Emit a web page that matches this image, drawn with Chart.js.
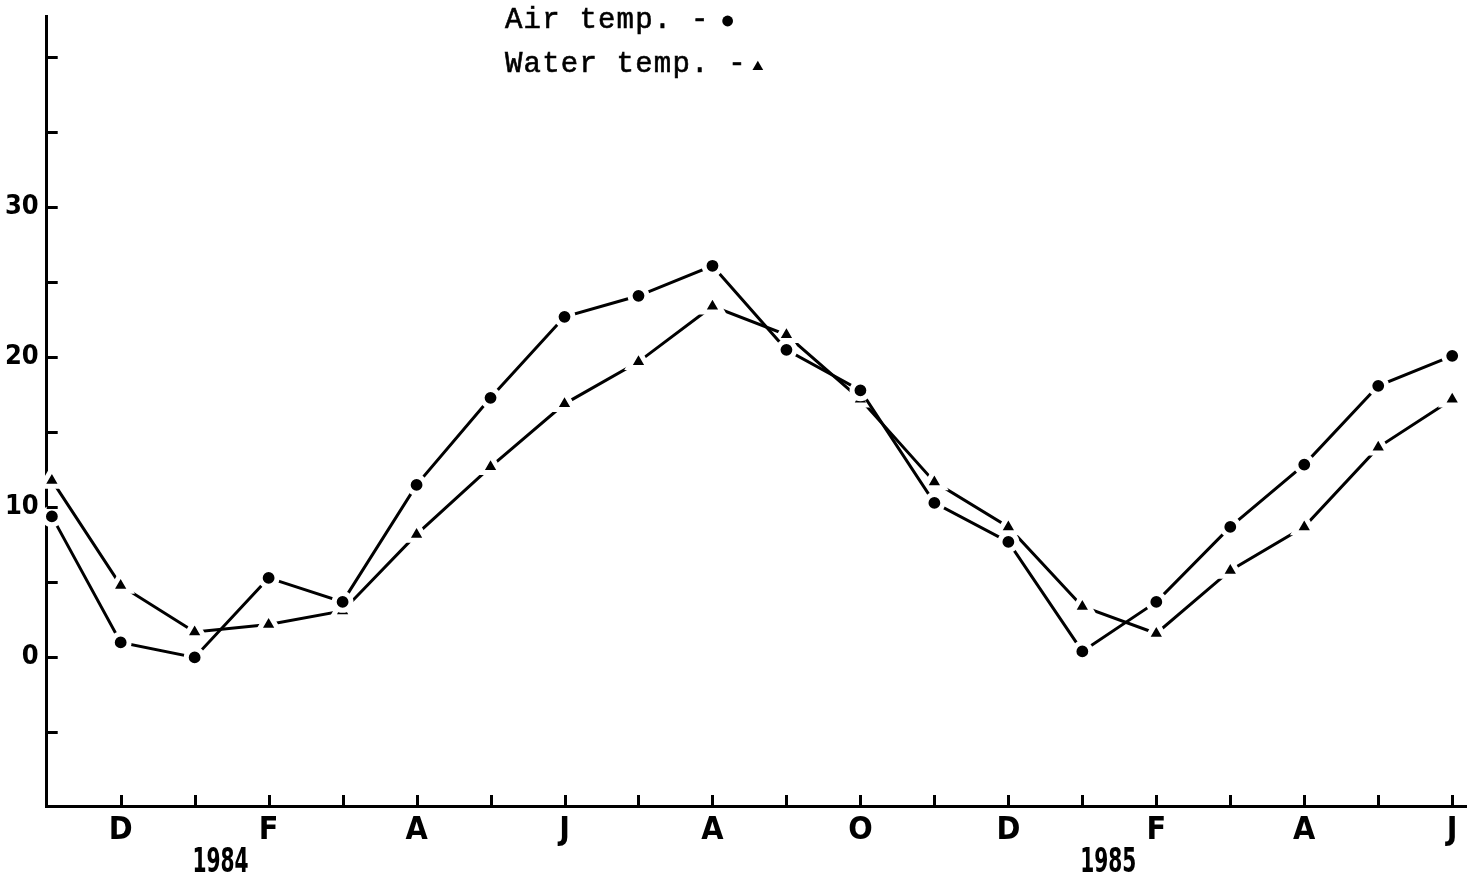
<!DOCTYPE html>
<html>
<head>
<meta charset="utf-8">
<title>Air and water temperature</title>
<script src="https://cdn.jsdelivr.net/npm/chart.js@4.4.1/dist/chart.umd.min.js"></script>
<style>
  html, body { margin: 0; padding: 0; background: #fff; }
  #wrap { width: 1467px; height: 877px; position: relative; }
</style>
</head>
<body>
<div id="wrap"><canvas id="chart" width="1467" height="877"></canvas></div>
<script>
// Monthly readings, November 1983 to June 1985
const months = ['N','D','J','F','M','A','M','J','J','A','S','O','N','D','J','F','M','A','M','J'];
const monthIndex = [0.07, 1, 2, 3, 4, 5, 6, 7, 8, 9, 10, 11, 12, 13, 14, 15, 16, 17, 18, 19];
const airTemp   = [9.4, 1.0, 0.0, 5.3, 3.7, 11.5, 17.3, 22.7, 24.1, 26.1, 20.5, 17.8, 10.3, 7.7, 0.4, 3.7, 8.7, 12.85, 18.1, 20.1];
const waterTemp = [11.8, 4.8, 1.7, 2.2, 3.1, 8.2, 12.7, 16.9, 19.7, 23.4, 21.5, 17.2, 11.7, 8.7, 3.4, 1.6, 5.8, 8.7, 14.0, 17.2];
const yTickValues = [-5, 0, 5, 10, 15, 20, 25, 30, 35, 40];
const yLabelValues = [0, 10, 20, 30];
const xTickValues = [1, 2, 3, 4, 5, 6, 7, 8, 9, 10, 11, 12, 13, 14, 15, 16, 17, 18, 19];
const years = ['1984', '1985'];
const januaryIndex = [2, 14];
const legendLabels = ['Air temp. -', 'Water temp. -'];

const INK = '#000';
const NARROW = '"Liberation Sans Narrow", "DejaVu Sans Condensed", sans-serif';

const toPoints = vals => vals.map((v, i) => ({ x: monthIndex[i], y: v }));

// keep the plot box fixed: no extra room reserved for edge labels
const noEdgePadding = s => {
  s.paddingLeft = 0; s.paddingRight = 0; s.paddingTop = 0; s.paddingBottom = 0;
};

// Short inward tick marks on both axes, the year captions and the key
const decorations = {
  id: 'decorations',
  afterDraw(chart) {
    const { ctx, chartArea, scales: { x, y } } = chart;
    ctx.save();
    ctx.strokeStyle = INK;
    ctx.lineWidth = 3;
    ctx.lineCap = 'butt';
    ctx.beginPath();
    yTickValues.forEach(v => {
      const py = Math.round(y.getPixelForValue(v)) + 0.5;
      ctx.moveTo(chartArea.left, py);
      ctx.lineTo(chartArea.left + 11, py);
    });
    xTickValues.forEach(v => {
      const px = Math.round(x.getPixelForValue(v)) + 0.5;
      ctx.moveTo(px, chartArea.bottom);
      ctx.lineTo(px, chartArea.bottom - 11);
    });
    ctx.stroke();

    // year captions sit just right of the January ticks, in tall condensed figures
    ctx.fillStyle = INK;
    ctx.font = 'bold 34px ' + NARROW;
    ctx.textAlign = 'center';
    ctx.textBaseline = 'alphabetic';
    years.forEach((t, i) => {
      ctx.save();
      ctx.translate(x.getPixelForValue(januaryIndex[i] + 0.35), 872);
      ctx.scale(0.66, 1);
      ctx.fillText(t, 0, 0);
      ctx.restore();
    });

    // key: typewriter text followed by the series marker
    ctx.font = '29px "Liberation Mono", "DejaVu Sans Mono", monospace';
    ctx.textAlign = 'left';
    if ('letterSpacing' in ctx) ctx.letterSpacing = '1.2px';
    const rows = [
      { text: legendLabels[0], base: 28, ds: 0, gap: 18, my: 21 },
      { text: legendLabels[1], base: 72, ds: 1, gap: 11, my: 67 }
    ];
    rows.forEach(r => {
      ctx.fillText(r.text, 505, r.base);
      ctx.strokeStyle = INK;
      ctx.lineWidth = 0.6;
      ctx.strokeText(r.text, 505, r.base);
      const w = ctx.measureText(r.text).width;
      const style = chart.data.datasets[r.ds].pointStyle;
      Chart.helpers.drawPoint(ctx, {
        pointStyle: style,
        radius: style === 'circle' ? 5.4 : 6.2,
        rotation: 0,
        borderWidth: 0
      }, 505 + w + r.gap, r.my);
    });
    ctx.restore();
  }
};

new Chart(document.getElementById('chart'), {
  type: 'line',
  data: {
    datasets: [
      {
        label: 'Air temp.',
        data: toPoints(airTemp),
        borderColor: INK,
        borderWidth: 3,
        pointStyle: 'circle',
        pointRadius: 8.4,
        pointBackgroundColor: INK,
        pointBorderColor: '#fff',
        pointBorderWidth: 5,
        tension: 0,
        clip: false
      },
      {
        label: 'Water temp.',
        data: toPoints(waterTemp),
        borderColor: INK,
        borderWidth: 3,
        pointStyle: 'triangle',
        pointRadius: 11.5,
        pointBackgroundColor: INK,
        pointBorderColor: '#fff',
        pointBorderWidth: 5,
        tension: 0,
        clip: false
      }
    ]
  },
  options: {
    responsive: false,
    animation: false,
    devicePixelRatio: 1,
    layout: { autoPadding: false, padding: { top: 16.7, right: 0, bottom: 0, left: 0 } },
    plugins: {
      legend: { display: false },
      tooltip: { enabled: false },
      title: { display: false }
    },
    scales: {
      x: {
        type: 'linear',
        min: 0,
        max: 19.2,
        z: 1,
        grid: { display: false, drawTicks: false },
        border: { display: true, color: INK, width: 3 },
        afterBuildTicks: s => { s.ticks = xTickValues.map(v => ({ value: v })); },
        afterFit: s => { s.height = 71; noEdgePadding(s); },
        ticks: {
          autoSkip: false,
          maxRotation: 0,
          padding: 5,
          color: INK,
          font: { family: NARROW, size: 32, weight: 'bold' },
          callback: v => (v % 2 === 1 ? months[v] : '')
        }
      },
      y: {
        type: 'linear',
        min: -9.9,
        max: 42.7,
        z: 1,
        grid: { display: false, drawTicks: false },
        border: { display: true, color: INK, width: 3 },
        afterBuildTicks: s => { s.ticks = yTickValues.map(v => ({ value: v })); },
        afterFit: s => { s.width = 46.7; noEdgePadding(s); },
        ticks: {
          autoSkip: false,
          padding: 8,
          color: INK,
          font: { family: NARROW, size: 27, weight: 'bold' },
          callback: v => (yLabelValues.includes(v) ? String(v) : '')
        }
      }
    }
  },
  plugins: [decorations]
});
</script>
</body>
</html>
